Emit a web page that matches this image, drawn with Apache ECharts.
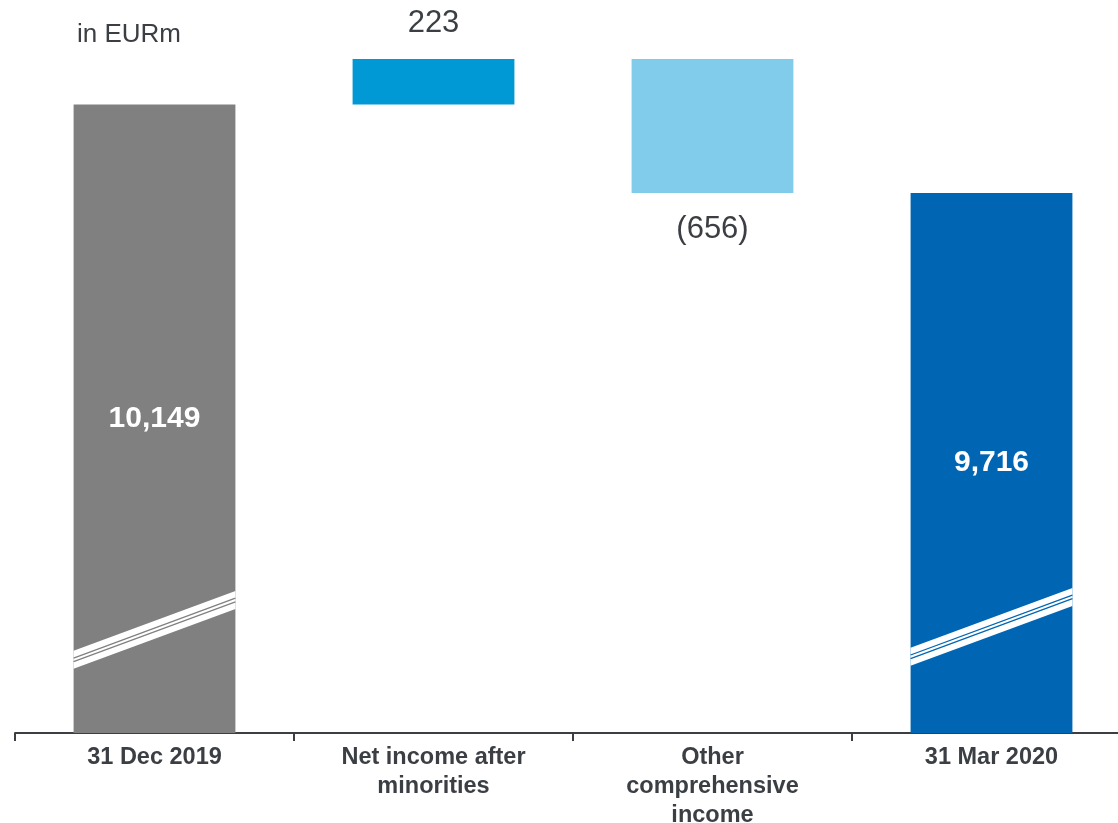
<!DOCTYPE html>
<html>
<head>
<meta charset="utf-8">
<script src="https://cdn.jsdelivr.net/npm/echarts@6/dist/echarts.min.js"></script>
<style>
  html, body { margin: 0; padding: 0; background: #ffffff; }
  #chart { width: 1118px; height: 823px; }
</style>
</head>
<body>
<div id="chart"></div>
<script>
// Equity bridge, in EURm
const categories = ['31 Dec 2019', 'Net income after\nminorities', 'Other\ncomprehensive\nincome', '31 Mar 2020'];
const totals = [10149, '-', '-', 9716];          // opening / closing equity
const movements = ['-', 223, -656, '-'];          // change during the quarter
const movementLabels = ['', '223', '(656)', ''];
// Level at which the broken value axis is marked on the total bars
const breakLevels = [[0, 7575], [3, 7590]];

const barColors = ['#808080', '#0099d6', '#82cceb', '#0066b3'];
const textColor = '#3b3f44';
const font = '"Liberation Sans", Arial, sans-serif';

// floating bars: invisible base + visible step
const base = [];
const steps = [];
let running = 0;
for (let i = 0; i < categories.length; i++) {
  if (totals[i] !== '-') {
    running = totals[i];
    base.push('-');
    steps.push('-');
  } else {
    const m = movements[i];
    const start = m >= 0 ? running : running + m;
    base.push(start);
    steps.push({ value: Math.abs(m), itemStyle: { color: barColors[i] },
      label: { position: m >= 0 ? 'top' : 'bottom', distance: m >= 0 ? 20 : 21 } });
    running += m;
  }
}

const chart = echarts.init(document.getElementById('chart'), null, { renderer: 'canvas' });

chart.setOption({
  animation: false,
  title: {
    text: 'in EURm',
    left: 72, top: 17,
    textStyle: { fontFamily: font, fontSize: 26, fontWeight: 'normal', color: textColor }
  },
  grid: { left: 15, top: 59, width: 1116, height: 674, containLabel: false, outerBoundsMode: 'none' },
  xAxis: {
    type: 'category',
    data: categories,
    axisLine: { lineStyle: { color: textColor, width: 2 } },
    axisTick: { show: true, length: 8, lineStyle: { color: textColor, width: 2 } },
    axisLabel: {
      interval: 0, margin: 10, hideOverlap: false,
      fontFamily: font, fontSize: 23.5, fontWeight: 'bold', color: textColor, lineHeight: 29
    }
  },
  yAxis: {
    type: 'value', min: 7070, max: 10372,
    show: false, splitLine: { show: false }
  },
  series: [
    {
      name: 'base', type: 'bar', stack: 'wf', barWidth: '58%', barGap: '-100%',
      itemStyle: { color: 'transparent' }, data: base, silent: true
    },
    {
      name: 'movement', type: 'bar', stack: 'wf', barWidth: '58%',
      data: steps,
      label: {
        show: true, fontFamily: font, fontSize: 31, color: textColor,
        formatter: p => movementLabels[p.dataIndex]
      }
    },
    {
      name: 'total', type: 'bar', barWidth: '58%', barGap: '-100%',
      data: totals.map((v, i) => v === '-' ? '-' : { value: v, itemStyle: { color: barColors[i] } }),
      label: {
        show: true, position: 'inside', fontFamily: font, fontSize: 30, fontWeight: 'bold',
        color: '#ffffff', formatter: p => p.value.toLocaleString('en-US')
      }
    },
    {
      // diagonal break marks across the total bars
      name: 'break', type: 'custom', silent: true, z: 5,
      data: breakLevels,
      renderItem: function (params, api) {
        const idx = api.value(0);
        const c = api.coord([idx, api.value(1)]);
        const w = api.size([1, 0])[0] * 0.58;
        const x0 = c[0] - w / 2, x1 = c[0] + w / 2;
        const rise = w * 0.37;
        const h = 18;
        const col = barColors[idx];
        const band = [
          [x0, c[1] + rise / 2 - h / 2], [x1, c[1] - rise / 2 - h / 2],
          [x1, c[1] - rise / 2 + h / 2], [x0, c[1] + rise / 2 + h / 2]
        ];
        const line = off => ({
          type: 'line',
          shape: { x1: x0, y1: c[1] + rise / 2 + off, x2: x1, y2: c[1] - rise / 2 + off },
          style: { stroke: col, lineWidth: 1.3 }
        });
        return {
          type: 'group',
          children: [
            { type: 'polygon', shape: { points: band }, style: { fill: '#ffffff' } },
            line(-1.8), line(1.8)
          ]
        };
      }
    }
  ]
});
</script>
</body>
</html>
